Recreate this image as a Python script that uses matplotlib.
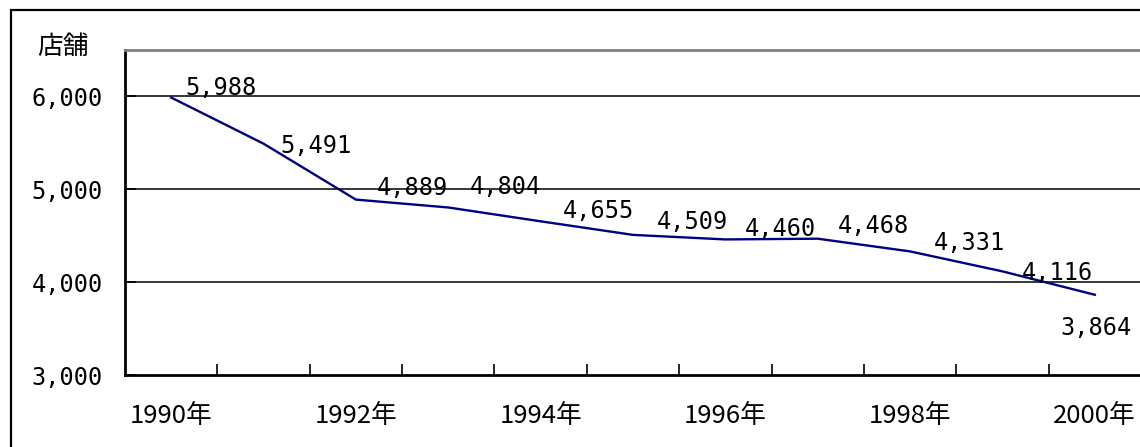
import matplotlib
matplotlib.use('Agg')
import matplotlib.pyplot as plt
import matplotlib.patches as patches
from matplotlib.ticker import FixedLocator, FuncFormatter

# data
years = list(range(1990, 2001))
stores = [5988, 5491, 4889, 4804, 4655, 4509, 4460, 4468, 4331, 4116, 3864]
ytick_vals = [3000, 4000, 5000, 6000]

# label placement (pixels, relative to the point)
label_offsets = [(14, 10), (17, -2), (21, 12), (22, 20), (22, 10), (24, 13),
                 (19, 10), (20, 13), (24, 8), (19, -2), (-34, -33)]

plt.rcParams['font.family'] = ['Noto Sans CJK JP', 'DejaVu Sans']
num_font = 'DejaVu Sans Mono'

W, H = 1140, 447
fig = plt.figure(figsize=(W / 100, H / 100), dpi=100)
fig.patch.set_facecolor('white')

# outer chart border
fig.add_artist(patches.Rectangle((11 / W, -0.1), 1.2, (H - 10) / H + 0.1,
                                 transform=fig.transFigure, fill=False,
                                 edgecolor='black', linewidth=1.6))

ax = fig.add_axes([125 / W, (H - 375) / H, (1141 - 125) / W, (375 - 50) / H])
x = list(range(len(years)))
ax.plot(x, stores, color='#000080', linewidth=1.7, zorder=3)

ax.set_xlim(-0.5, len(years) - 0.5)
ax.set_ylim(3000, 6500)

# gridlines
for v in ytick_vals[1:]:
    ax.axhline(v, color='black', linewidth=1.1, zorder=1)

for side in ['top', 'right']:
    ax.spines[side].set_color('#808080')
    ax.spines[side].set_linewidth(2)
for side in ['left', 'bottom']:
    ax.spines[side].set_color('black')
    ax.spines[side].set_linewidth(2)

ax.yaxis.set_major_locator(FixedLocator(ytick_vals))
ax.yaxis.set_major_formatter(FuncFormatter(lambda v, p: '{:,}'.format(int(v))))
ax.tick_params(axis='y', direction='in', length=8, width=1.2, pad=16)
for lab in ax.get_yticklabels():
    lab.set_fontfamily(num_font)
    lab.set_fontsize(17)

ax.set_xticks(x[::2])
ax.set_xticklabels([str(y) + '年' for y in years[::2]], fontsize=18.5)
ax.tick_params(axis='x', which='major', length=0, pad=20)
ax.set_xticks([i - 0.5 for i in range(1, len(years))], minor=True)
ax.tick_params(axis='x', which='minor', direction='in', length=8, width=1.2)

# data labels
for xi, v, (dx, dy) in zip(x, stores, label_offsets):
    ax.annotate('{:,}'.format(v), (xi, v), xytext=(dx, dy),
                textcoords='offset pixels', ha='left', va='center',
                fontfamily=num_font, fontsize=17, zorder=4)

fig.text(63 / W, (H - 47) / H, '店舗', ha='center', va='center', fontsize=18.5)

fig.savefig('out.png', dpi=100)
